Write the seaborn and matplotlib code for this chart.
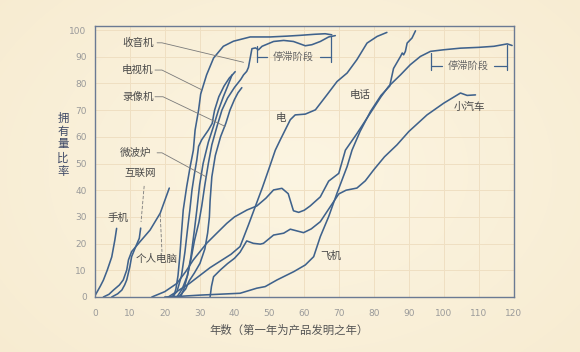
import numpy as np
import pandas as pd
import matplotlib
matplotlib.use("Agg")
import matplotlib.pyplot as plt
import seaborn as sns

# ---------------- data (x = years since invention, y = ownership %) ----------------
cell_x = [0, 1.5, 2.4, 3.5, 4.8, 5.7, 6.2]
cell_y = [0.5, 4, 6.3, 10, 15, 21.4, 25.7]

internet_x = [4.8, 6.5, 7.7, 8.5, 9.1, 10.0, 10.5, 11.5, 12.7, 13.1]
internet_y = [0, 1.2, 2.6, 4.5, 6.4, 11.4, 15.1, 18.3, 22.0, 25.8]

pc_x = [2.4, 4.0, 5.3, 7.0, 8.1, 9.1, 9.6, 10.5, 12.9, 15.8, 18.7, 21.3]
pc_y = [0, 1.0, 2.6, 4.5, 6.4, 10.1, 13.9, 17.0, 20.7, 25.1, 31.4, 40.8]

radio_x = [22.5, 23.2, 23.8, 24.3, 24.8, 25.3, 26.3, 27.3, 28.2, 28.7, 29.7, 30.3,
           32.0, 34.0, 36.8, 39.7, 44.5, 50.2, 55.0, 58.8, 63.0, 66.0, 67.9]
radio_y = [0, 3, 8, 15, 24, 32.6, 41.4, 48.9, 55, 62.5, 70, 76,
           83.2, 89.5, 93.9, 95.8, 97.4, 97.4, 97.7, 98.0, 98.4, 98.6, 98.2]

tv_x = [24.5, 25.5, 26.5, 27.5, 28.5, 29.8, 30.6, 31.5, 32.5, 33.5, 35.0, 36.4, 38.0,
        40.0, 41.8, 42.6, 43.5, 44.0, 44.5, 45.0, 46.0, 46.9, 47.9, 51.2, 54.1, 56.9,
        60.3, 62.2, 64.6, 67.0, 68.9]
tv_y = [0, 3, 8, 14, 21, 28, 34, 42, 50, 57, 64, 70, 74.5,
        78.5, 81.5, 83.2, 84.5, 86, 89.5, 93, 93.3, 92.6, 93.9, 95.7, 96.1, 95.7,
        94.1, 94.5, 95.7, 97.4, 97.9]

vcr_x = [22.0, 23.5, 24.8, 25.8, 26.5, 27.2, 27.8, 28.5, 29.2, 29.7, 30.6, 32.5,
         33.6, 34.0, 34.3, 35.5, 37.0, 38.5, 39.6, 40.2]
vcr_y = [0, 2, 8, 17, 25, 32.6, 40, 46, 51.4, 56.4, 58.9, 62.5,
         65, 68, 70, 75, 79, 82, 83.5, 84.4]

micro_x = [23.5, 25.0, 26.5, 27.5, 28.5, 29.2, 30.0, 31.0, 32.5, 34.0, 35.4, 36.8, 38.2, 39.3]
micro_y = [0, 3, 8, 15, 25, 32.6, 42, 50, 58, 64, 70, 75, 79.5, 83.2]

other_x = [24.0, 26.0, 27.0, 28.5, 30.1, 31.5, 32.3, 32.8, 33.0, 33.5, 34.5, 36.0,
           37.5, 38.7, 40.0, 41.0, 42.1]
other_y = [0, 3, 6, 9, 12.6, 18, 24, 30, 36, 45, 53, 60,
           65, 70, 74, 76.5, 78.4]

elec_x = [21, 24, 27, 30, 33, 36, 39, 41.6, 44, 46, 48, 50, 51.7, 53.1, 56.0, 57.4,
          60.3, 63.2, 66.5, 69.4, 72.3, 75.1, 78.0, 80.9, 83.7]
elec_y = [0, 2.5, 5, 8, 11, 13.5, 16, 18.9, 27, 34, 41, 48.5, 55, 58.8, 66.4, 68.2,
          68.5, 70.1, 75.7, 80.7, 83.9, 88.9, 95.1, 97.6, 99.1]

phone_x = [16.3, 20, 23.5, 26, 28.2, 32, 35, 37.8, 40, 43.6, 46.4, 49, 51.2, 53.6,
           55.4, 56.9, 58.4, 60, 61.7, 64.6, 67, 69.9, 71.8, 75, 78.5, 82, 84.2,
           87.6, 90.4, 93.3, 96.2, 100, 104.8, 110, 114.4, 118.2, 119.6]
phone_y = [0, 2, 5.1, 9.5, 13.9, 20.1, 24, 27.6, 30, 32.6, 34.1, 37, 40.1, 40.7,
           38.7, 32.3, 31.7, 32.5, 34.1, 37.5, 43.4, 46.3, 55, 61, 68, 75, 78.9,
           83.2, 87, 90.1, 92, 92.6, 93.2, 93.5, 93.9, 94.8, 94.2]

car_x = [33, 33.4, 34, 36, 38, 40, 41.6, 43.5, 45.4, 47.4, 48.3, 51.2, 54.1, 56,
         59.8, 62, 64.6, 67.5, 69.9, 72, 75.1, 77.5, 79.9, 83, 86.6, 90, 95.2, 100,
         104.8, 106.7, 109.1]
car_y = [0, 4, 7.6, 10.2, 12.5, 14.5, 16.8, 21, 20.1, 19.8, 20.1, 23.2, 23.9, 25.4,
         24.1, 25.5, 28.2, 33.9, 38.6, 40, 40.8, 43.5, 47.6, 52.5, 57, 62, 68.2, 72.6,
         76.4, 75.5, 75.7]

plane_x = [20, 25, 30, 35, 41.6, 46.4, 48.8, 52.2, 57, 60.3, 62.7, 64.6, 67, 69.4,
           72.3, 73.7, 76, 79, 82, 84.5, 85.6, 87.6, 88.1, 88.5, 89, 89.5, 90.9, 91.9]
plane_y = [0, 0.3, 0.7, 1.0, 1.4, 3.3, 3.9, 6.4, 9.5, 12, 15.1, 22.6, 30.1, 38.9,
           48.9, 55, 62, 69.5, 75.5, 79, 85.6, 90.1, 91.4, 90.7, 92, 95.1, 97, 99.7]

series = {
    "手机": (cell_x, cell_y), "互联网": (internet_x, internet_y), "个人电脑": (pc_x, pc_y),
    "收音机": (radio_x, radio_y), "电视机": (tv_x, tv_y), "录像机": (vcr_x, vcr_y),
    "微波炉": (micro_x, micro_y), "其他": (other_x, other_y), "电": (elec_x, elec_y),
    "电话": (phone_x, phone_y), "小汽车": (car_x, car_y), "飞机": (plane_x, plane_y),
}

x_ticks = list(range(0, 121, 10))
y_ticks = list(range(0, 101, 10))

rows = []
for name, (xs, ys) in series.items():
    for i, (a, b) in enumerate(zip(xs, ys)):
        rows.append({"product": name, "order": i, "x": a, "y": b})
df = pd.DataFrame(rows)

# ---------------- style ----------------
sns.set_theme(style="white")
plt.rcParams["font.family"] = ["Noto Sans CJK SC", "DejaVu Sans"]

LINE = "#3f628c"
FRAME = "#6b7a93"
TXT = "#4a4a4a"
LEAD = "#7a7a7a"

fig = plt.figure(figsize=(5.8, 3.52), dpi=100)

# background radial gradient
bg = fig.add_axes([0, 0, 1, 1], zorder=-10)
yy, xx = np.mgrid[0:352, 0:580]
r = np.sqrt(((xx - 300) / 420.0) ** 2 + ((yy - 170) / 300.0) ** 2)
r = np.clip(r, 0, 1)
c_in = np.array([252, 245, 226]) / 255.0
c_out = np.array([247, 235, 208]) / 255.0
img = c_in[None, None, :] * (1 - r[..., None]) + c_out[None, None, :] * r[..., None]
bg.imshow(img, aspect="auto", extent=[0, 1, 0, 1])
bg.axis("off")

ax = fig.add_axes([95 / 580, 1 - 297 / 352, (513.5 - 95) / 580, (297 - 26) / 352])
ax.set_facecolor("none")

sns.lineplot(data=df, x="x", y="y", units="product", estimator=None, sort=False,
             color=LINE, linewidth=1.15, ax=ax, legend=False)

ax.set_xlim(0, 120)
ax.set_ylim(0, 101.5)
ax.set_xticks(x_ticks)
ax.set_yticks(y_ticks)
ax.set_xticklabels([str(v) for v in x_ticks])
ax.set_yticklabels([str(v) for v in y_ticks])
ax.tick_params(axis="both", length=0, labelsize=6.5, labelcolor="#9a9a9a")
ax.tick_params(axis="x", pad=9)
ax.tick_params(axis="y", pad=6)
for lab in ax.get_xticklabels() + ax.get_yticklabels():
    lab.set_fontfamily(["DejaVu Sans"])
ax.grid(True, color="#efdfc2", linewidth=0.7)
ax.set_axisbelow(True)
for s in ax.spines.values():
    s.set_color(FRAME)
    s.set_linewidth(1.0)
ax.set_xlabel("")
ax.set_ylabel("")

fig.text(289 / 580, 1 - 330 / 352, "年数（第一年为产品发明之年）", ha="center", va="center",
         fontsize=8.2, color="#555555")
fig.text(63 / 580, 1 - 145 / 352, "拥\n有\n量\n比\n率", ha="center", va="center",
         fontsize=8.2, color="#3d4866", linespacing=1.3)

# labels with leader lines
def label(t, x, y, **kw):
    ax.text(x, y, t, ha="center", va="center", fontsize=7.6, color=TXT, **kw)

label("收音机", 12.3, 95.2)
ax.plot([17.8, 19.2, 42.6], [95.2, 95.2, 87.9], color=LEAD, lw=0.6)
label("电视机", 12.3, 85.0)
ax.plot([17.2, 19.2, 30.6], [85.0, 85.0, 77.6], color=LEAD, lw=0.6)
label("录像机", 12.3, 75.0)
ax.plot([17.2, 19.5, 37.3], [75.0, 75.0, 63.9], color=LEAD, lw=0.6)
label("微波炉", 11.5, 54.0)
ax.plot([17.8, 19.2, 31.9], [54.0, 54.0, 45.0], color=LEAD, lw=0.6)
label("互联网", 12.9, 46.5)
ax.plot([14.1, 13.2], [41.6, 28.1], color=LEAD, lw=0.6, ls=(0, (4, 2)))
label("个人电脑", 17.8, 14.2)
ax.plot([18.7, 19.2], [31.1, 16.9], color=LEAD, lw=0.6, ls=(0, (4, 2)))
label("手机", 6.6, 29.6)
label("电", 53.4, 67.1)
label("电话", 76.1, 75.7)
label("小汽车", 107.4, 71.2)
label("飞机", 67.6, 15.4)

# stagnation brackets
def bracket(x0, x1, y, ytop0, ytop1, ybot, xt, gap0, gap1):
    ax.plot([x0, x0], [ytop0, ybot], color=LINE, lw=0.9)
    ax.plot([x1, x1], [ytop1, ybot], color=LINE, lw=0.9)
    ax.plot([x0, gap0], [y, y], color=LINE, lw=0.9)
    ax.plot([gap1, x1], [y, y], color=LINE, lw=0.9)
    ax.text(xt, y, "停滞阶段", ha="center", va="center", fontsize=7.4, color="#666666")

bracket(46.4, 67.7, 89.9, 93.9, 97.6, 87.9, 56.8, 49.3, 64.5)
bracket(96.4, 118.2, 86.7, 91.4, 94.5, 84.9, 106.9, 99.5, 114.3)

fig.savefig("out.png", dpi=100)
